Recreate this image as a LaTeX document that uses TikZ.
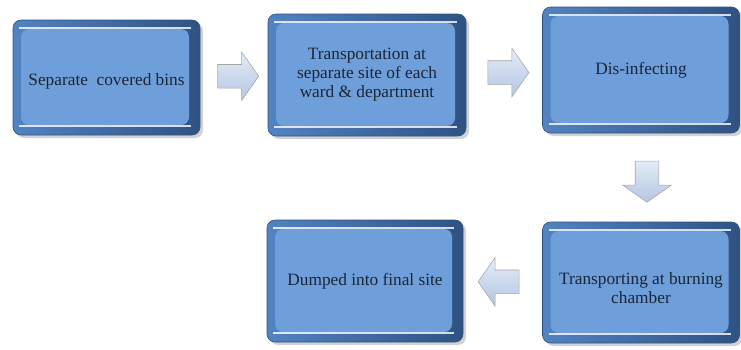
\documentclass[tikz,border=0pt]{standalone}
\usepackage{fontspec}
\setmainfont{Liberation Serif}
\usepackage{tikz}
\usetikzlibrary{shapes.arrows, shadows, calc}
\definecolor{boxface}{HTML}{6E9FDA}
\definecolor{boxrim}{HTML}{5283C2}
\definecolor{boxdark}{HTML}{2F5283}
\definecolor{boxtext}{HTML}{1B2535}
\definecolor{arrowtop}{HTML}{E4ECF7}
\definecolor{arrowbot}{HTML}{B3C6E2}
\tikzstyle{stage}=[rounded corners=8pt, inner sep=0pt, align=center,
  font=\fontsize{17.3}{19}\selectfont, text=boxtext,
  left color=boxrim, right color=boxdark, draw=boxdark, line width=0.6pt,
  drop shadow={shadow xshift=3pt, shadow yshift=-3pt, fill=black!35, opacity=0.5},
  path picture={
    \fill[boxface] ([xshift=8pt,yshift=-9pt]path picture bounding box.north west)
      rectangle ([xshift=-11pt,yshift=10pt]path picture bounding box.south east);
    \draw[white, line width=1.2pt, opacity=0.8]
      ([xshift=6pt,yshift=-8pt]path picture bounding box.north west)
      -- ([xshift=-9pt,yshift=-8pt]path picture bounding box.north east);
    \draw[white, line width=1.2pt, opacity=0.8]
      ([xshift=6pt,yshift=9pt]path picture bounding box.south west)
      -- ([xshift=-9pt,yshift=9pt]path picture bounding box.south east);
  }]
\newcommand{\stage}{\node[stage]}
\tikzstyle{blockarrow}=[single arrow, draw=gray!70, line width=0.6pt,
  top color=arrowtop, bottom color=arrowbot, inner xsep=0pt, inner ysep=11.5pt,
  minimum width=48pt, minimum height=41pt, single arrow head extend=12.5pt,
  single arrow tip angle=110]
\newcommand{\blockarrow}{\node[blockarrow]}

\begin{document}
\begin{tikzpicture}[x=1pt, y=-1pt]
    \useasboundingbox (0,0) rectangle (741,349);
    \stage[minimum width=187pt, minimum height=115pt] (bins) at (106.5,77.5) {\\[0pt]Separate\ \ covered bins};
    \stage[minimum width=198pt, minimum height=122pt] (ward) at (367,75) {Transportation at\\ separate site of each\\ ward \& department};
    \stage[minimum width=197pt, minimum height=126pt] (disinf) at (641,70) {Dis-infecting};
    \stage[minimum width=197pt, minimum height=121pt] (burn) at (641,282.5) {\\[4pt]Transporting at burning\\ chamber};
    \stage[minimum width=196pt, minimum height=122pt] (final) at (365,281) {Dumped into final site};
    \blockarrow (a1) at ($(bins.east)!0.5!(ward.west)$) {};
    \blockarrow (a2) at ($(ward.east)!0.5!(disinf.west)$) {};
    \blockarrow[shape border rotate=270, inner xsep=11.5pt, inner ysep=0pt, xshift=6pt] (a3) at ($(disinf.south)!0.5!(burn.north)$) {};
    \blockarrow[shape border rotate=180] (a4) at ($(final.east)!0.5!(burn.west)$) {};
\end{tikzpicture}
\end{document}
